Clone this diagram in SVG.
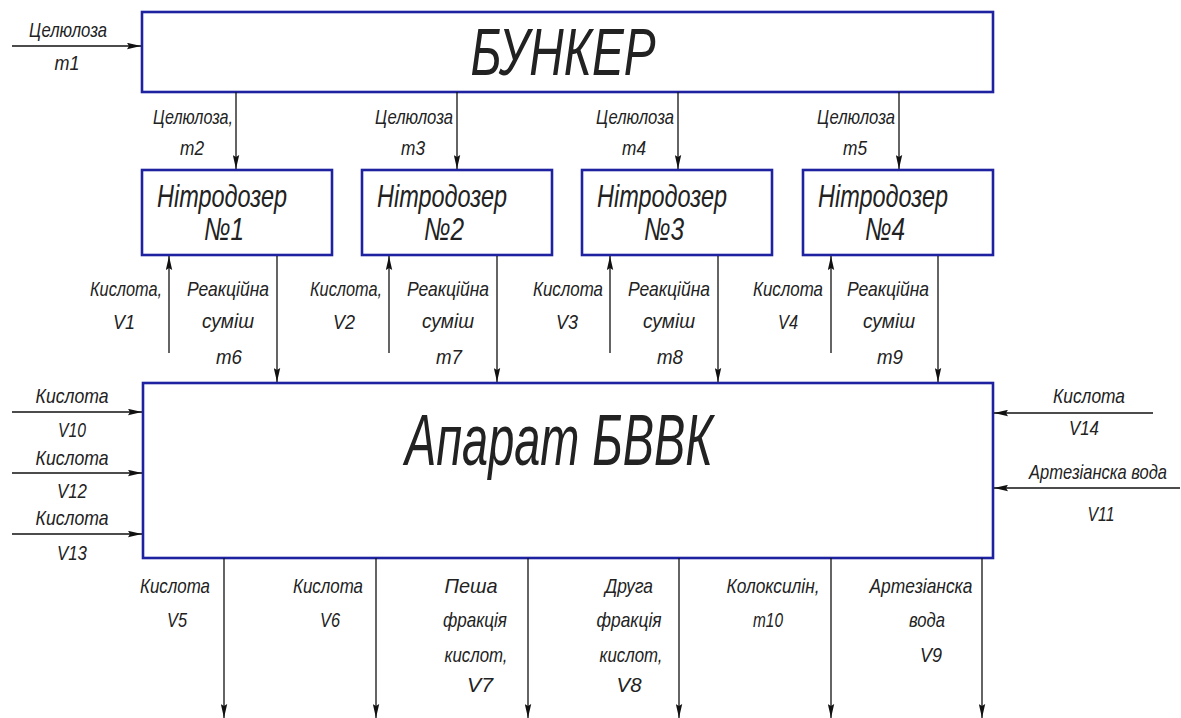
<svg xmlns="http://www.w3.org/2000/svg" width="1181" height="718" viewBox="0 0 1181 718">
<defs>
<style>
.box{fill:#fff;stroke:#1e22a0;stroke-width:2.6}
.ln{stroke:#111;stroke-width:1.3;fill:none;marker-end:url(#ah)}
text{font-family:"Liberation Sans","DejaVu Sans",sans-serif;font-style:italic;fill:#222;text-anchor:middle}
.s{font-size:21px}
.n{font-size:32px}
.b{font-size:66px}
.a{font-size:72px}
</style>
<marker id="ah" viewBox="0 0 14 7" refX="14" refY="3.5" markerWidth="14" markerHeight="7" markerUnits="userSpaceOnUse" orient="auto">
<path d="M0,0.3 L14,3.5 L0,6.7 L2,3.5 Z" fill="#111"/>
</marker>
</defs>
<rect width="1181" height="718" fill="#fff"/>

<g id="bunker">
<rect class="box" x="142" y="12" width="851" height="80"/>
<text class="b" x="563" y="75" textLength="185" lengthAdjust="spacingAndGlyphs">БУНКЕР</text>
</g>

<g id="nitro1">
<rect class="box" x="142" y="170" width="190" height="85"/>
<text class="n" x="222" y="207" textLength="130" lengthAdjust="spacingAndGlyphs">Нітродозер</text>
<text class="n" x="224" y="240" textLength="40" lengthAdjust="spacingAndGlyphs">№1</text>
</g>
<g id="nitro2">
<rect class="box" x="362" y="170" width="190" height="85"/>
<text class="n" x="442" y="207" textLength="130" lengthAdjust="spacingAndGlyphs">Нітродозер</text>
<text class="n" x="444" y="240" textLength="40" lengthAdjust="spacingAndGlyphs">№2</text>
</g>
<g id="nitro3">
<rect class="box" x="582" y="170" width="190" height="85"/>
<text class="n" x="662" y="207" textLength="130" lengthAdjust="spacingAndGlyphs">Нітродозер</text>
<text class="n" x="664" y="240" textLength="40" lengthAdjust="spacingAndGlyphs">№3</text>
</g>
<g id="nitro4">
<rect class="box" x="803" y="170" width="190" height="85"/>
<text class="n" x="883" y="207" textLength="130" lengthAdjust="spacingAndGlyphs">Нітродозер</text>
<text class="n" x="885" y="240" textLength="40" lengthAdjust="spacingAndGlyphs">№4</text>
</g>

<g id="apparatus">
<rect class="box" x="143" y="383" width="850" height="175"/>
<text class="a" x="559" y="465" textLength="308" lengthAdjust="spacingAndGlyphs">Апарат БВВК</text>
</g>

<g id="connectors">
<line class="ln" x1="12" y1="46" x2="141" y2="46"/>
<line class="ln" x1="236" y1="92" x2="236" y2="169"/>
<line class="ln" x1="457" y1="92" x2="457" y2="169"/>
<line class="ln" x1="678" y1="92" x2="678" y2="169"/>
<line class="ln" x1="899" y1="92" x2="899" y2="169"/>

<line class="ln" x1="169" y1="353" x2="169" y2="256"/>
<line class="ln" x1="277" y1="256" x2="277" y2="382"/>
<line class="ln" x1="389" y1="353" x2="389" y2="256"/>
<line class="ln" x1="497" y1="256" x2="497" y2="382"/>
<line class="ln" x1="610" y1="353" x2="610" y2="256"/>
<line class="ln" x1="718" y1="256" x2="718" y2="382"/>
<line class="ln" x1="831" y1="353" x2="831" y2="256"/>
<line class="ln" x1="938" y1="256" x2="938" y2="382"/>

<line class="ln" x1="12" y1="412" x2="142" y2="412"/>
<line class="ln" x1="12" y1="473" x2="142" y2="473"/>
<line class="ln" x1="12" y1="534" x2="142" y2="534"/>
<line class="ln" x1="1153" y1="413" x2="994" y2="413"/>
<line class="ln" x1="1180" y1="488" x2="994" y2="488"/>

<line class="ln" x1="224" y1="558" x2="224" y2="718"/>
<line class="ln" x1="376" y1="558" x2="376" y2="718"/>
<line class="ln" x1="528" y1="558" x2="528" y2="718"/>
<line class="ln" x1="679" y1="558" x2="679" y2="718"/>
<line class="ln" x1="831" y1="558" x2="831" y2="718"/>
<line class="ln" x1="982" y1="558" x2="982" y2="718"/>
</g>

<g id="labels">
<text class="s" x="68" y="37" textLength="78" lengthAdjust="spacingAndGlyphs">Целюлоза</text>
<text class="s" x="67" y="70" textLength="25" lengthAdjust="spacingAndGlyphs">m1</text>

<text class="s" x="193" y="124" textLength="80" lengthAdjust="spacingAndGlyphs">Целюлоза,</text>
<text class="s" x="192" y="155" textLength="24" lengthAdjust="spacingAndGlyphs">m2</text>
<text class="s" x="414" y="124" textLength="78" lengthAdjust="spacingAndGlyphs">Целюлоза</text>
<text class="s" x="413" y="155" textLength="24" lengthAdjust="spacingAndGlyphs">m3</text>
<text class="s" x="635" y="124" textLength="78" lengthAdjust="spacingAndGlyphs">Целюлоза</text>
<text class="s" x="634" y="155" textLength="24" lengthAdjust="spacingAndGlyphs">m4</text>
<text class="s" x="856" y="124" textLength="78" lengthAdjust="spacingAndGlyphs">Целюлоза</text>
<text class="s" x="855" y="155" textLength="24" lengthAdjust="spacingAndGlyphs">m5</text>

<text class="s" x="126" y="296" textLength="72" lengthAdjust="spacingAndGlyphs">Кислота,</text>
<text class="s" x="124" y="329" textLength="22" lengthAdjust="spacingAndGlyphs">V1</text>
<text class="s" x="228" y="296" textLength="82" lengthAdjust="spacingAndGlyphs">Реакційна</text>
<text class="s" x="228" y="328" textLength="52" lengthAdjust="spacingAndGlyphs">суміш</text>
<text class="s" x="229" y="364" textLength="26" lengthAdjust="spacingAndGlyphs">m6</text>

<text class="s" x="346" y="296" textLength="72" lengthAdjust="spacingAndGlyphs">Кислота,</text>
<text class="s" x="344" y="329" textLength="22" lengthAdjust="spacingAndGlyphs">V2</text>
<text class="s" x="448" y="296" textLength="82" lengthAdjust="spacingAndGlyphs">Реакційна</text>
<text class="s" x="448" y="328" textLength="52" lengthAdjust="spacingAndGlyphs">суміш</text>
<text class="s" x="449" y="364" textLength="26" lengthAdjust="spacingAndGlyphs">m7</text>

<text class="s" x="568" y="296" textLength="70" lengthAdjust="spacingAndGlyphs">Кислота</text>
<text class="s" x="567" y="329" textLength="22" lengthAdjust="spacingAndGlyphs">V3</text>
<text class="s" x="669" y="296" textLength="82" lengthAdjust="spacingAndGlyphs">Реакційна</text>
<text class="s" x="669" y="328" textLength="52" lengthAdjust="spacingAndGlyphs">суміш</text>
<text class="s" x="670" y="364" textLength="26" lengthAdjust="spacingAndGlyphs">m8</text>

<text class="s" x="788" y="296" textLength="70" lengthAdjust="spacingAndGlyphs">Кислота</text>
<text class="s" x="788" y="329" textLength="20" lengthAdjust="spacingAndGlyphs">V4</text>
<text class="s" x="888" y="296" textLength="82" lengthAdjust="spacingAndGlyphs">Реакційна</text>
<text class="s" x="889" y="328" textLength="52" lengthAdjust="spacingAndGlyphs">суміш</text>
<text class="s" x="890" y="364" textLength="26" lengthAdjust="spacingAndGlyphs">m9</text>

<text class="s" x="72" y="403" textLength="73" lengthAdjust="spacingAndGlyphs">Кислота</text>
<text class="s" x="72" y="437" textLength="28" lengthAdjust="spacingAndGlyphs">V10</text>
<text class="s" x="72" y="465" textLength="73" lengthAdjust="spacingAndGlyphs">Кислота</text>
<text class="s" x="72" y="498" textLength="30" lengthAdjust="spacingAndGlyphs">V12</text>
<text class="s" x="72" y="525" textLength="73" lengthAdjust="spacingAndGlyphs">Кислота</text>
<text class="s" x="72" y="560" textLength="30" lengthAdjust="spacingAndGlyphs">V13</text>

<text class="s" x="1089" y="403" textLength="72" lengthAdjust="spacingAndGlyphs">Кислота</text>
<text class="s" x="1084" y="435" textLength="30" lengthAdjust="spacingAndGlyphs">V14</text>
<text class="s" x="1167" y="479" textLength="138" lengthAdjust="spacingAndGlyphs" style="text-anchor:end">Артезіанска вода</text>
<text class="s" x="1101" y="521" textLength="27" lengthAdjust="spacingAndGlyphs">V11</text>

<text class="s" x="175" y="593" textLength="70" lengthAdjust="spacingAndGlyphs">Кислота</text>
<text class="s" x="177" y="627" textLength="20" lengthAdjust="spacingAndGlyphs">V5</text>
<text class="s" x="328" y="593" textLength="70" lengthAdjust="spacingAndGlyphs">Кислота</text>
<text class="s" x="330" y="627" textLength="20" lengthAdjust="spacingAndGlyphs">V6</text>
<text class="s" x="471" y="593" textLength="53" lengthAdjust="spacingAndGlyphs">Пеша</text>
<text class="s" x="475" y="627" textLength="64" lengthAdjust="spacingAndGlyphs">фракція</text>
<text class="s" x="476" y="662" textLength="63" lengthAdjust="spacingAndGlyphs">кислот,</text>
<text class="s" x="480" y="692" textLength="26" lengthAdjust="spacingAndGlyphs">V7</text>
<text class="s" x="629" y="593" textLength="48" lengthAdjust="spacingAndGlyphs">Друга</text>
<text class="s" x="629" y="627" textLength="65" lengthAdjust="spacingAndGlyphs">фракція</text>
<text class="s" x="631" y="662" textLength="63" lengthAdjust="spacingAndGlyphs">кислот,</text>
<text class="s" x="629" y="692" textLength="25" lengthAdjust="spacingAndGlyphs">V8</text>
<text class="s" x="773" y="593" textLength="93" lengthAdjust="spacingAndGlyphs">Колоксилін,</text>
<text class="s" x="768" y="627" textLength="30" lengthAdjust="spacingAndGlyphs">m10</text>
<text class="s" x="921" y="593" textLength="103" lengthAdjust="spacingAndGlyphs">Артезіанска</text>
<text class="s" x="927" y="627" textLength="36" lengthAdjust="spacingAndGlyphs">вода</text>
<text class="s" x="931" y="662" textLength="22" lengthAdjust="spacingAndGlyphs">V9</text>
</g>
</svg>
